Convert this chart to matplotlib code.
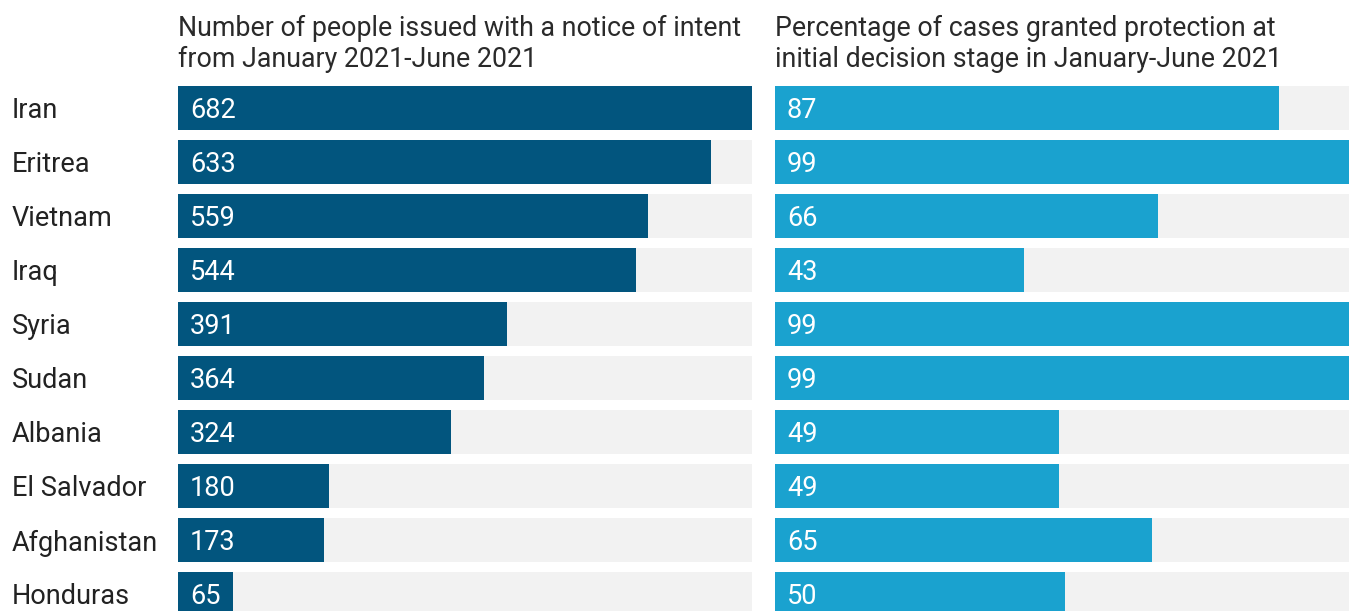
"""notice of intent vs protection rate, two bar panels"""

import matplotlib.pyplot as plt
import numpy as np

plt.rcParams['font.family'] = ['Roboto', 'DejaVu Sans']

# data
countries = ["Iran", "Eritrea", "Vietnam", "Iraq", "Syria", "Sudan",
             "Albania", "El Salvador", "Afghanistan", "Honduras"]
notices = [682, 633, 559, 544, 391, 364, 324, 180, 173, 65]
granted_pct = [87, 99, 66, 43, 99, 99, 49, 49, 65, 50]

title_left = ["Number of people issued with a notice of intent",
              "from January 2021-June 2021"]
title_right = ["Percentage of cases granted protection at",
               "initial decision stage in January-June 2021"]

W, H = 1349, 611
fig = plt.figure(figsize=(W / 100, H / 100), dpi=100)

# row pitch 54px, bar 44px, first bar top at y=86
pitch, bar_px, top_px = 54, 44, 86
bar_h = bar_px / pitch
y_top = -bar_h / 2
y_bot = y_top + (H - top_px) / pitch
ax_h = (H - top_px) / H

def panel(x0, values, color, title):
    ax = fig.add_axes([x0 / W, 0, 574 / W, ax_h])
    y = np.arange(len(values))
    vmax = max(values)
    ax.barh(y, [vmax] * len(values), height=bar_h, color="#f2f2f2")
    ax.barh(y, values, height=bar_h, color=color)
    for yi, v in zip(y, values):
        ax.text(vmax * 12 / 574, yi, str(v), color="white", fontsize=19.5,
                va="center_baseline")
    ax.set_xlim(0, vmax)
    ax.set_ylim(y_bot, y_top)
    ax.axis("off")
    fig.text(x0 / W, 1 - 36 / H, title[0], fontsize=19.3, color="#2a2a2a",
             va="baseline")
    fig.text(x0 / W, 1 - 67 / H, title[1], fontsize=19.3, color="#2a2a2a",
             va="baseline")
    return ax

ax1 = panel(178, notices, "#02557e", title_left)
ax2 = panel(775, granted_pct, "#1aa2cf", title_right)

# country labels
for i, c in enumerate(countries):
    ax1.text(-166 / 574 * max(notices), i, c, fontsize=19.5, color="#222222",
             va="center_baseline", clip_on=False)

fig.savefig("out.png", dpi=100, facecolor="white")
